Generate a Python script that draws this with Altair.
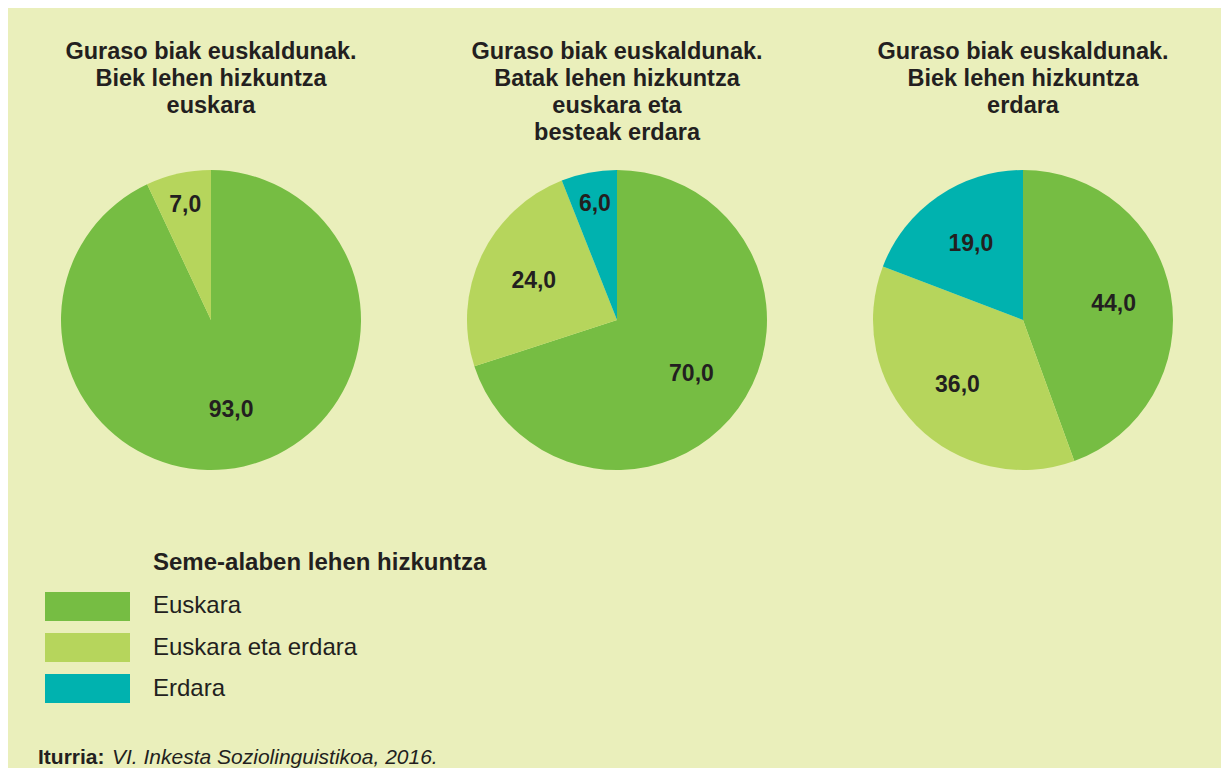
import altair as alt
import pandas as pd

# ---- data ----
categories = ["Euskara", "Euskara eta erdara", "Erdara"]
colors = ["#76BD43", "#B6D55C", "#00B2AF"]

pie_titles = [
    ["Guraso biak euskaldunak.", "Biek lehen hizkuntza", "euskara", " "],
    ["Guraso biak euskaldunak.", "Batak lehen hizkuntza", "euskara eta", "besteak erdara"],
    ["Guraso biak euskaldunak.", "Biek lehen hizkuntza", "erdara", " "],
]
pie1_values = [93.0, 7.0, 0.0]
pie2_values = [70.0, 24.0, 6.0]
pie3_values = [44.0, 36.0, 19.0]

legend_title = "Seme-alaben lehen hizkuntza"
source_label = ["Iturria:"]
source_text = ["VI. Inkesta Soziolinguistikoa, 2016."]

FONT = "Liberation Sans"
INK = "#231F20"
BG = "#EAEFBB"

color_scale = alt.Scale(domain=categories, range=colors)


def make_pie(values, title_lines):
    df = pd.DataFrame({"cat": categories, "value": values, "ord": list(range(len(categories)))})
    base = (
        alt.Chart(df)
        .transform_filter("datum.value > 0")
        .transform_joinaggregate(total="sum(value)")
        .transform_window(cum="sum(value)", sort=[alt.SortField("ord", order="ascending")], frame=[None, 0])
        .transform_calculate(
            t0="2 * PI * (datum.cum - datum.value) / datum.total",
            t1="2 * PI * datum.cum / datum.total",
            tm="PI * (2 * datum.cum - datum.value) / datum.total",
            lr="datum.value / datum.total < 0.1 ? 118 : 92",
            label="replace(format(datum.value, '.1f'), '.', ',')",
        )
    )
    arcs = base.mark_arc(outerRadius=150).encode(
        theta=alt.Theta("t0:Q", scale=None),
        theta2="t1:Q",
        color=alt.Color("cat:N", scale=color_scale, legend=None),
    )
    labels = base.mark_text(
        font=FONT, fontSize=23, fontWeight="bold", color=INK
    ).encode(
        theta=alt.Theta("tm:Q", scale=None),
        radius=alt.Radius("lr:Q", scale=None),
        text="label:N",
    )
    return alt.layer(arcs, labels).properties(
        width=396,
        height=300,
        title=alt.TitleParams(
            text=title_lines,
            font=FONT,
            fontSize=23.5,
            fontWeight="bold",
            color=INK,
            lineHeight=27,
            anchor="middle",
            offset=26,
        ),
    )


pies = alt.hconcat(
    make_pie(pie1_values, pie_titles[0]),
    make_pie(pie2_values, pie_titles[1]),
    make_pie(pie3_values, pie_titles[2]),
    spacing=10,
)

# ---- legend (drawn from the category list) + source ----
leg_df = pd.DataFrame({"cat": categories})
leg_y = alt.Y(
    "cat:N",
    sort=categories,
    scale=alt.Scale(domain=categories, paddingInner=0.2927, paddingOuter=0.1463),
    axis=None,
)
swatches = alt.Chart(leg_df).mark_rect().encode(
    y=leg_y,
    x=alt.value(32),
    x2=alt.value(117),
    color=alt.Color("cat:N", scale=color_scale, legend=None),
)
leg_labels = alt.Chart(leg_df).mark_text(
    align="left", baseline="middle", font=FONT, fontSize=24, color=INK
).encode(y=leg_y, x=alt.value(140), text="cat:N")

src_df = pd.DataFrame({"label": source_label, "text": source_text})
src_bold = alt.Chart(src_df).mark_text(
    align="left", baseline="alphabetic", font=FONT, fontSize=21, fontWeight="bold", color=INK
).encode(text="label:N", x=alt.value(25), y=alt.value(178))
src_ital = alt.Chart(src_df).mark_text(
    align="left", baseline="alphabetic", font=FONT, fontSize=21, fontStyle="italic", color=INK
).encode(text="text:N", x=alt.value(99), y=alt.value(178))

legend_block = alt.layer(swatches, leg_labels, src_bold, src_ital).properties(
    width=1208,
    height=123,
    title=alt.TitleParams(
        text=legend_title,
        font=FONT,
        fontSize=24,
        fontWeight="bold",
        color=INK,
        anchor="start",
        dx=140,
        offset=11,
    ),
)

chart = (
    alt.vconcat(pies, legend_block, spacing=81)
    .properties(padding={"left": 5, "top": 31, "right": 0, "bottom": 0}, background=BG)
    .configure_view(stroke=None)
)

chart.save("out.html", embed_options={"renderer": "svg", "actions": False})
